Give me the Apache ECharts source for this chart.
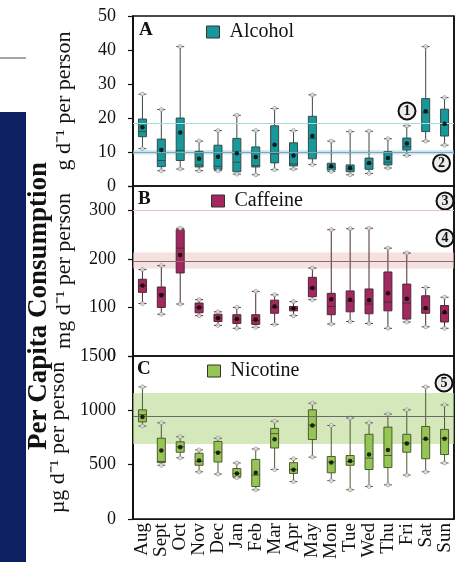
<!DOCTYPE html>
<html><head><meta charset="utf-8">
<script src="https://cdn.jsdelivr.net/npm/echarts@6/dist/echarts.min.js"></script>
<style>html,body{margin:0;padding:0;background:#fff}#c{width:457px;height:562px}</style>
</head><body><div id="c"></div>
<script>
const categories = ['Aug','Sept','Oct','Nov','Dec','Jan','Feb','Mar','Apr','May','Mon','Tue','Wed','Thu','Fri','Sat','Sun'];

// [min, Q1, median, Q3, max]
const alcoholBox = [
  [11,14.5,16,19.7,27],[4.5,5.7,7.5,13.8,22.5],[5,7.5,10.5,20,41],[4.5,5.6,6.2,10.2,13.2],
  [4.5,4.9,5.8,12,16.3],[3.5,4.2,7,14,20.8],[3.3,5.6,6,11.5,16.3],[4.8,6.8,9.5,17.7,22.8],
  [5,5.9,6.5,12.7,16.3],[6.3,8,14,20.5,26.8],
  [4.3,4.7,5.5,6.7,13.2],[3.3,4.2,5,6.2,16],[3.7,4.9,6.5,8.2,16.1],[5.3,6.2,7,10.1,13.9],
  [9,10.6,11.5,14.1,17.7],[13.2,16,21.5,25.7,41],[12,14.7,18,22.6,26]
];
const alcoholMean = [17.3,10.6,15.7,8.0,8.6,9.6,8.5,12.1,9.0,14.7,5.8,5.3,6.8,8.2,12.5,22,18.3];

const caffeineBox = [
  [108,131,145,158,178],[86,100,128,142,186],[107,171,222,260,263],[83,89,100,109,116],
  [63,71,78,86,91],[57,67,75,85,100],[59,65,73,85,133],[65,88,100,115,126],
  [83,93,98,102,112],[116,122,140,162,181],
  [66,85,102,129,260],[71,91,113,134,262],[67,87,107,138,263],[57,93,111,173,222],
  [70,76,109,148,212],[60,88,97,124,141],[57,70,88,104,121]
];
const caffeineMean = [145,125,208,100,78,76,75,102,98,140,117,116,115,129,118,99,90];

const nicotineBox = [
  [856,894,960,1005,1216],[495,519,530,744,885],[564,615,666,711,757],[435,495,530,606,636],
  [414,525,615,714,744],[380,390,420,465,516],[270,300,405,549,645],[456,654,786,834,900],
  [345,420,456,519,555],[570,732,865,1005,1066],
  [354,426,525,576,861],[270,495,530,585,930],[300,456,561,780,885],[315,474,585,846,966],
  [405,615,700,780,1005],[435,555,735,852,1216],[516,594,744,825,1050]
];
const nicotineMean = [940,630,660,540,610,420,426,735,455,860,520,535,594,636,695,740,740];

// reference guideline values
const alcoholLines = [18.6, 9.9];
const alcoholBand = [9.3, 10.5];
const caffeineLines = [300, 196];
const caffeineBand = [180, 213];
const nicotineLines = [942];
const nicotineBand = [690, 1160];

const yMax = [50, 350, 1500];
const yInterval = [10, 100, 500];
const yNames = ['g d\u207B\u00B9 per person', 'mg d\u207B\u00B9 per person', '\u00B5g d\u207B\u00B9 per person'];
const seriesNames = ['Alcohol', 'Caffeine', 'Nicotine'];

const F = "'Liberation Serif','Times New Roman',serif";
const fills = ['#17989a', '#a3285f', '#95c555'];
const borders = ['#3a4a4a', '#4a2a35', '#4e5a30'];

const chart = echarts.init(document.getElementById('c'));

const grids = [
  {left:133, top:16, width:321, height:170},
  {left:133, top:186, width:321, height:170},
  {left:133, top:356, width:321, height:167}
].map(g => Object.assign(g, {show:true, borderColor:'#111', borderWidth:1.6}));

const xAxes = [0,1,2].map(i => ({
  type:'category', gridIndex:i, data:categories, boundaryGap:true,
  axisLine:{show:false}, axisTick:{show:false},
  axisLabel:{show:i===2, rotate:90, fontFamily:F, fontSize:19, color:'#111', margin:4, interval:0},
  splitLine:{show:true, interval:(idx)=>idx===10, lineStyle:{color:'#111', width:1.6}}
}));

const yAxes = [0,1,2].map(i => ({
  type:'value', gridIndex:i, min:0, max:yMax[i], interval:yInterval[i],
  axisLine:{show:true, lineStyle:{color:'#111', width:1.6}},
  axisTick:{show:true, length:5, lineStyle:{color:'#111', width:1.2}},
  splitLine:{show:false},
  axisLabel:{fontFamily:F, fontSize:18, color:'#111', margin:17,
    formatter:(v)=> (v % yInterval[i] === 0 ? String(v) : '')},
  name:yNames[i], nameLocation:'middle', nameGap:58,
  nameTextStyle:{fontFamily:F, fontSize:22, color:'#111'}
}));

const boxes = [alcoholBox, caffeineBox, nicotineBox];
const means = [alcoholMean, caffeineMean, nicotineMean];
const lineSets = [alcoholLines, caffeineLines, nicotineLines];
const bands = [alcoholBand, caffeineBand, nicotineBand];
const lineColors = [['#a6dcdc', '#7aa8b8'], ['#e8c0c8', '#8a6a6a'], ['#6a6a6a']];
const bandColors = ['rgba(160,205,222,0.55)', 'rgba(240,205,205,0.6)', 'rgba(190,220,150,0.65)'];

const series = [];
[0,1,2].forEach(i => {
  series.push({
    type:'line', xAxisIndex:i, yAxisIndex:i, data:[], z:1, silent:true,
    markArea:{silent:true, itemStyle:{color:bandColors[i]}, data:[[{yAxis:bands[i][0]},{yAxis:bands[i][1]}]]},
    markLine:{silent:true, symbol:'none', label:{show:false},
      data: lineSets[i].map((v,k)=>({yAxis:v, lineStyle:{color:lineColors[i][k], width:1.2, type:'solid'}}))}
  });
  series.push({
    name:seriesNames[i], type:'boxplot', xAxisIndex:i, yAxisIndex:i, z:3,
    data:boxes[i], boxWidth:[8,8],
    itemStyle:{color:fills[i], borderColor:borders[i], borderWidth:1}
  });
  series.push({
    type:'scatter', xAxisIndex:i, yAxisIndex:i, z:4, silent:true,
    symbol:'circle', symbolSize:4,
    itemStyle:{color:'#eee', borderColor:'#888', borderWidth:0.8},
    data: boxes[i].flatMap((b,k)=>[[k,b[0]],[k,b[4]]])
  });
  series.push({
    type:'scatter', xAxisIndex:i, yAxisIndex:i, z:5, silent:true,
    symbol:'circle', symbolSize:4.5, itemStyle:{color:'#000'},
    data: means[i].map((v,k)=>[k,v])
  });
});

const legendPos = [{left:206, top:22}, {left:211, top:191}, {left:207, top:361}];
const legends = [0,1,2].map(i => ({
  data:[seriesNames[i]], left:legendPos[i].left, top:legendPos[i].top, padding:0,
  icon:'rect', itemWidth:13, itemHeight:12,
  itemStyle:{color:fills[i], borderColor:'#333', borderWidth:1},
  textStyle:{fontFamily:F, fontSize:20, color:'#111', padding:[0,0,0,5]},
  selectedMode:false
}));

function circled(cx, cy, t){
  return {type:'group', children:[
    {type:'circle', shape:{cx:cx, cy:cy, r:8.5}, style:{fill:'#ececec', stroke:'#111', lineWidth:2}},
    {type:'text', x:cx, y:cy+0.5, style:{text:t, font:'bold 14px '+F, fill:'#111', align:'center', verticalAlign:'middle'}}
  ]};
}

const graphic = [
  {type:'rect', shape:{x:0, y:112, width:26, height:450}, style:{fill:'#0c2062'}},
  {type:'line', shape:{x1:0, y1:58, x2:26, y2:58}, style:{stroke:'#8a8a8a', lineWidth:1.5}},
  {type:'text', x:39, y:306, rotation:Math.PI/2,
    style:{text:'Per Capita Consumption', font:'bold 27px '+F, fill:'#111', align:'center', verticalAlign:'middle'}},
  {type:'text', x:139, y:21, style:{text:'A', font:'bold 19px '+F, fill:'#111'}},
  {type:'text', x:138, y:190, style:{text:'B', font:'bold 19px '+F, fill:'#111'}},
  {type:'text', x:137, y:360, style:{text:'C', font:'bold 19px '+F, fill:'#111'}},
  circled(407, 111, '1'), circled(441.5, 163, '2'), circled(445, 201, '3'),
  circled(445, 238, '4'), circled(444, 383, '5')
];

chart.setOption({
  animation:false, backgroundColor:'#fff',
  grid:grids, xAxis:xAxes, yAxis:yAxes, series:series, legend:legends, graphic:graphic
});
</script></body></html>
